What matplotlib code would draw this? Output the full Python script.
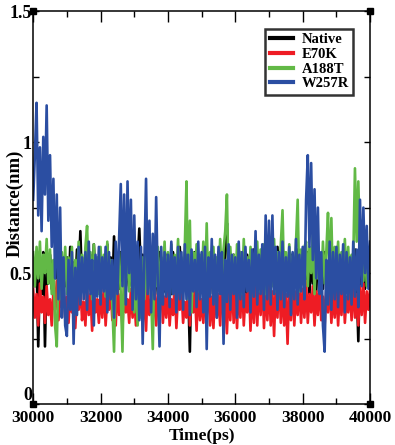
import numpy as np
import matplotlib
matplotlib.use("Agg")
import matplotlib.pyplot as plt
from matplotlib.ticker import MultipleLocator

plt.rcParams['font.family'] = ['Liberation Serif', 'DejaVu Serif']
plt.rcParams['font.weight'] = 'bold'

# distance traces, one value every 50 ps from 30000 to 40000 ps
native = [
    0.52, 0.45, 0.56, 0.22, 0.50, 0.42, 0.58, 0.22, 0.53, 0.46,
    0.57, 0.44, 0.52, 0.48, 0.55, 0.43, 0.58, 0.47, 0.53, 0.45,
    0.56, 0.42, 0.60, 0.47, 0.54, 0.44, 0.59, 0.48, 0.66, 0.45,
    0.55, 0.43, 0.60, 0.46, 0.57, 0.42, 0.61, 0.47, 0.55, 0.44,
    0.58, 0.45, 0.53, 0.43, 0.61, 0.47, 0.56, 0.42, 0.64, 0.46,
    0.55, 0.44, 0.58, 0.47, 0.53, 0.43, 0.60, 0.45, 0.56, 0.42,
    0.58, 0.46, 0.54, 0.67, 0.48, 0.57, 0.43, 0.55, 0.46, 0.59,
    0.44, 0.56, 0.47, 0.53, 0.42, 0.58, 0.45, 0.55, 0.43, 0.57,
    0.46, 0.54, 0.42, 0.58, 0.47, 0.55, 0.43, 0.60, 0.45, 0.53,
    0.48, 0.57, 0.44, 0.20, 0.55, 0.46, 0.58, 0.43, 0.54, 0.47,
    0.56, 0.44, 0.59, 0.47, 0.53, 0.42, 0.57, 0.46, 0.55, 0.43,
    0.58, 0.45, 0.54, 0.47, 0.60, 0.69, 0.46, 0.55, 0.43, 0.57,
    0.47, 0.54, 0.44, 0.58, 0.46, 0.55, 0.42, 0.57, 0.48, 0.53,
    0.45, 0.59, 0.43, 0.56, 0.47, 0.54, 0.42, 0.58, 0.46, 0.55,
    0.44, 0.57, 0.47, 0.53, 0.43, 0.60, 0.46, 0.55, 0.42, 0.58,
    0.45, 0.54, 0.47, 0.57, 0.43, 0.55, 0.46, 0.59, 0.44, 0.56,
    0.47, 0.53, 0.45, 0.58, 0.42, 0.56, 0.46, 0.54, 0.43, 0.57,
    0.46, 0.55, 0.44, 0.58, 0.47, 0.53, 0.42, 0.56, 0.45, 0.59,
    0.44, 0.57, 0.46, 0.54, 0.43, 0.58, 0.47, 0.55, 0.42, 0.56,
    0.45, 0.59, 0.46, 0.24, 0.54, 0.47, 0.58, 0.44, 0.60, 0.48,
    0.55,
]
e70k = [
    0.44, 0.33, 0.42, 0.30, 0.46, 0.35, 0.41, 0.31, 0.45, 0.34,
    0.40, 0.30, 0.43, 0.36, 0.47, 0.32, 0.42, 0.37, 0.45, 0.33,
    0.41, 0.31, 0.44, 0.35, 0.40, 0.29, 0.43, 0.36, 0.46, 0.32,
    0.39, 0.30, 0.45, 0.34, 0.42, 0.28, 0.44, 0.35, 0.40, 0.31,
    0.43, 0.33, 0.46, 0.30, 0.41, 0.36, 0.44, 0.32, 0.39, 0.30,
    0.45, 0.34, 0.42, 0.29, 0.46, 0.35, 0.40, 0.31, 0.44, 0.33,
    0.41, 0.30, 0.45, 0.36, 0.39, 0.31, 0.43, 0.28, 0.46, 0.34,
    0.40, 0.32, 0.44, 0.30, 0.42, 0.35, 0.47, 0.31, 0.41, 0.33,
    0.45, 0.30, 0.40, 0.34, 0.46, 0.29, 0.42, 0.36, 0.44, 0.31,
    0.39, 0.33, 0.45, 0.30, 0.41, 0.35, 0.43, 0.28, 0.46, 0.32,
    0.40, 0.31, 0.44, 0.34, 0.47, 0.30, 0.41, 0.29, 0.45, 0.33,
    0.42, 0.30, 0.46, 0.35, 0.40, 0.27, 0.44, 0.32, 0.48, 0.31,
    0.43, 0.29, 0.45, 0.33, 0.49, 0.30, 0.42, 0.35, 0.47, 0.28,
    0.44, 0.31, 0.48, 0.30, 0.46, 0.34, 0.50, 0.29, 0.45, 0.32,
    0.47, 0.30, 0.43, 0.26, 0.46, 0.33, 0.49, 0.31, 0.44, 0.30,
    0.42, 0.23, 0.45, 0.32, 0.47, 0.30, 0.43, 0.34, 0.46, 0.31,
    0.44, 0.33, 0.47, 0.31, 0.42, 0.35, 0.45, 0.30, 0.43, 0.34,
    0.46, 0.32, 0.41, 0.30, 0.44, 0.35, 0.47, 0.31, 0.42, 0.33,
    0.45, 0.30, 0.43, 0.34, 0.46, 0.31, 0.41, 0.35, 0.44, 0.32,
    0.47, 0.33, 0.42, 0.30, 0.45, 0.34, 0.46, 0.31, 0.43, 0.36,
    0.44,
]
a188t = [
    0.58, 0.45, 0.60, 0.48, 0.62, 0.44, 0.57, 0.50, 0.63, 0.46,
    0.59, 0.42, 0.55, 0.30, 0.22, 0.52, 0.40, 0.58, 0.45, 0.60,
    0.42, 0.56, 0.46, 0.60, 0.40, 0.55, 0.48, 0.62, 0.43, 0.57,
    0.45, 0.60, 0.68, 0.44, 0.58, 0.40, 0.61, 0.47, 0.56, 0.42,
    0.60, 0.45, 0.57, 0.41, 0.62, 0.46, 0.55, 0.38, 0.20, 0.52,
    0.44, 0.58, 0.42, 0.20, 0.55, 0.47, 0.60, 0.43, 0.57, 0.46,
    0.35, 0.52, 0.30, 0.48, 0.33, 0.56, 0.40, 0.58, 0.44, 0.55,
    0.42, 0.21, 0.57, 0.45, 0.60, 0.41, 0.56, 0.47, 0.62, 0.43,
    0.58, 0.46, 0.61, 0.42, 0.57, 0.48, 0.63, 0.44, 0.56, 0.45,
    0.60, 0.85, 0.40, 0.70, 0.35, 0.58, 0.45, 0.61, 0.43, 0.57,
    0.46, 0.62, 0.44, 0.69, 0.42, 0.58, 0.47, 0.60, 0.43, 0.56,
    0.48, 0.63, 0.45, 0.59, 0.66, 0.80, 0.44, 0.60, 0.47, 0.57,
    0.43, 0.61, 0.46, 0.58, 0.42, 0.63, 0.48, 0.56, 0.45, 0.60,
    0.44, 0.57, 0.47, 0.62, 0.43, 0.59, 0.46, 0.61, 0.42, 0.58,
    0.47, 0.60, 0.45, 0.63, 0.43, 0.58, 0.48, 0.61, 0.74, 0.46,
    0.58, 0.44, 0.61, 0.47, 0.57, 0.45, 0.62, 0.78, 0.43, 0.59,
    0.46, 0.60, 0.62, 0.45, 0.60, 0.50, 0.65, 0.42, 0.60, 0.48,
    0.57, 0.44, 0.62, 0.46, 0.58, 0.73, 0.45, 0.71, 0.43, 0.60,
    0.47, 0.62, 0.44, 0.58, 0.48, 0.63, 0.45, 0.60, 0.43, 0.57,
    0.55, 0.90, 0.62, 0.85, 0.58, 0.70, 0.47, 0.62, 0.45, 0.58,
    0.50,
]
w257r = [
    0.78, 0.95, 1.15, 0.72, 0.98, 0.66, 1.02, 0.80, 1.14, 0.70,
    0.95, 0.60, 0.86, 0.48, 0.80, 0.40, 0.75, 0.33, 0.56, 0.30,
    0.26, 0.55, 0.36, 0.58, 0.23, 0.52, 0.34, 0.60, 0.38, 0.56,
    0.40, 0.58, 0.36, 0.62, 0.42, 0.55, 0.30, 0.57, 0.41, 0.60,
    0.38, 0.56, 0.43, 0.60, 0.35, 0.58, 0.40, 0.55, 0.33, 0.62,
    0.42, 0.63, 0.84, 0.45, 0.80, 0.38, 0.85, 0.50, 0.78, 0.36,
    0.72, 0.40, 0.62, 0.32, 0.60, 0.23, 0.55, 0.86, 0.42, 0.70,
    0.35, 0.65, 0.40, 0.79, 0.45, 0.22, 0.60, 0.38, 0.58, 0.41,
    0.57, 0.37, 0.62, 0.42, 0.56, 0.35, 0.60, 0.40, 0.58, 0.36,
    0.61, 0.40, 0.57, 0.34, 0.59, 0.43, 0.55, 0.37, 0.62, 0.40,
    0.58, 0.35, 0.60, 0.21, 0.56, 0.41, 0.63, 0.38, 0.57, 0.33,
    0.60, 0.42, 0.58, 0.23, 0.55, 0.39, 0.61, 0.36, 0.57, 0.42,
    0.56, 0.33, 0.62, 0.40, 0.58, 0.37, 0.60, 0.43, 0.55, 0.35,
    0.59, 0.41, 0.66, 0.38, 0.57, 0.42, 0.61, 0.36, 0.72, 0.40,
    0.70, 0.38, 0.72, 0.42, 0.60, 0.36, 0.58, 0.40, 0.62, 0.37,
    0.56, 0.41, 0.60, 0.34, 0.58, 0.40, 0.63, 0.38, 0.57, 0.43,
    0.60, 0.40, 0.78, 0.95, 0.60, 0.92, 0.55, 0.82, 0.48, 0.75,
    0.42, 0.58, 0.30, 0.20, 0.55, 0.38, 0.62, 0.36, 0.58, 0.40,
    0.60, 0.37, 0.57, 0.42, 0.61, 0.35, 0.58, 0.40, 0.56, 0.38,
    0.62, 0.41, 0.59, 0.37, 0.78, 0.45, 0.75, 0.50, 0.68, 0.44,
    0.62,
]
labels = ["Native", "E70K", "A188T", "W257R"]
colors = ["#000000", "#ee1c24", "#62b946", "#2b4ea2"]

time = np.linspace(30000, 40000, len(native))

fig = plt.figure(figsize=(3.95, 4.45), dpi=100)
ax = fig.add_axes([0.084, 0.092, 0.853, 0.883])

for series, lab, col in zip([native, e70k, a188t, w257r], labels, colors):
    ax.plot(time, series, color=col, lw=1.9, label=lab)

ax.set_xlim(30000, 40000)
ax.set_ylim(0, 1.5)
ax.xaxis.set_major_locator(MultipleLocator(2000))
ax.xaxis.set_minor_locator(MultipleLocator(1000))
ax.yaxis.set_minor_locator(MultipleLocator(0.25))
ax.set_yticks([0, 0.5, 1, 1.5])
ax.set_yticklabels(["0", "0.5", "1", "1.5"])
ax.get_yticklabels()[0].set_va("bottom")
ax.tick_params(which="both", direction="in", top=True, right=True, width=1.0)
ax.tick_params(axis="x", which="major", length=8, labelsize=12.5, pad=4)
ax.tick_params(axis="x", which="minor", length=4)
ax.tick_params(axis="y", which="both", length=4.5, labelsize=13, pad=1)
for sp in ax.spines.values():
    sp.set_linewidth(1.1)

# little black squares at the frame corners
ax.plot([0, 0, 1, 1], [0, 1, 1, 0], "s", color="black", ms=5,
        transform=ax.transAxes, clip_on=False)

ax.set_xlabel("Time(ps)", fontsize=12.5, fontweight="bold", labelpad=2)
ax.set_ylabel("Distance(nm)", fontsize=13.5, fontweight="bold")
ax.yaxis.set_label_coords(-0.028, 0.51)

leg = ax.legend(loc="upper right", bbox_to_anchor=(0.95, 0.955), fontsize=10.5,
                frameon=True, fancybox=False, handlelength=1.6, handletextpad=0.6,
                borderpad=0.3, labelspacing=0.1, borderaxespad=0)
leg.get_frame().set_edgecolor("black")
leg.get_frame().set_linewidth(1.8)
for h in leg.get_lines():
    h.set_linewidth(3)

fig.savefig("out.png", dpi=100)
